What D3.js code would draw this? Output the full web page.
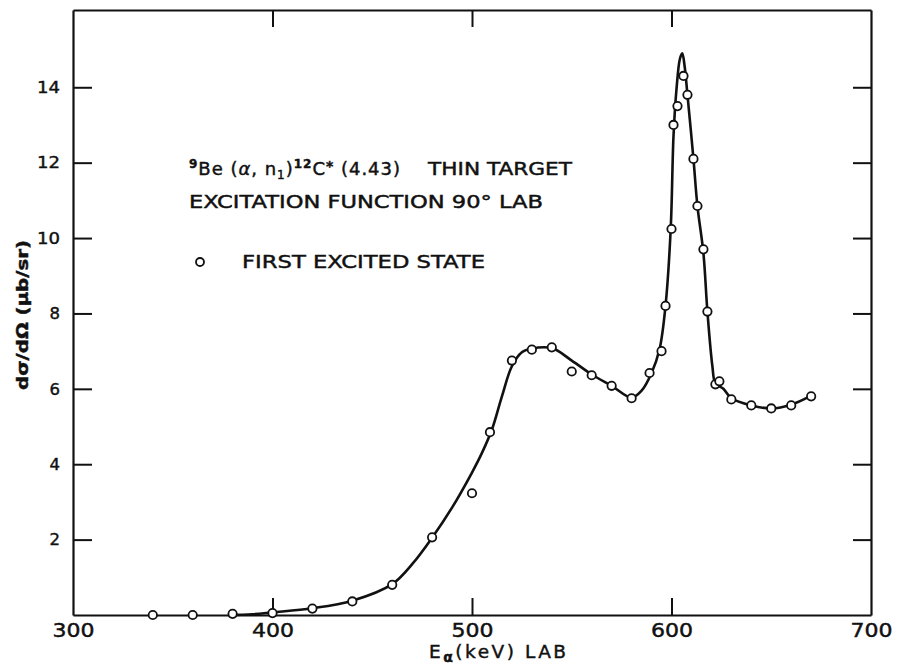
<!DOCTYPE html>
<html>
<head>
<meta charset="utf-8">
<script src="https://cdn.jsdelivr.net/npm/d3@7"></script>
<style>
  html, body { margin: 0; padding: 0; background: #fff; }
  svg { display: block; }
  text { font-family: "DejaVu Sans", sans-serif; fill: #111; stroke: #111; stroke-width: 0.45px; }
</style>
</head>
<body>
<svg id="chart" width="900" height="671"></svg>
<script>
// Measured points (E_alpha in keV, dσ/dΩ in μb/sr)
const energy = [340,360,380,400,420,440,460,480,500,509,520,530,540,550,560,570,580,589,595,597,600,601,603,606,608,611,613,616,618,622,624,630,640,650,660,670];
const sigma  = [0.0,0.0,0.03,0.05,0.17,0.36,0.8,2.06,3.23,4.85,6.75,7.04,7.1,6.46,6.36,6.08,5.75,6.42,7.0,8.2,10.24,13.0,13.5,14.3,13.8,12.1,10.85,9.7,8.05,6.12,6.2,5.72,5.56,5.48,5.56,5.8];

// Hand-drawn fitted curve
const curveE = [378,390,400,420,440,460,470,480,490,500,505,510,515,520,525,530,540,550,560,570,580,585,590,594,597,599.6,601,602.5,604.2,605.4,606.6,608,611,613,616,618,620.5,622,626,630,640,650,660,670];
const curveV = [0.0,0.02,0.07,0.18,0.38,0.82,1.35,2.05,2.85,3.78,4.3,4.92,5.8,6.6,6.97,7.07,7.08,6.75,6.38,6.08,5.77,5.95,6.42,7.05,8.2,10.24,12.7,13.95,14.75,14.9,14.55,13.8,12.1,10.85,9.6,8.05,6.6,6.15,6.0,5.75,5.56,5.48,5.58,5.82];

const xTickValues = [300,400,500,600,700];
const xInnerTicks = [400,500,600];
const yTickValues = [2,4,6,8,10,12,14];

const svg = d3.select("#chart");
const L = 73, R = 871, T = 10, B = 615;
const x = d3.scaleLinear().domain([300,700]).range([L,R]);
const y = d3.scaleLinear().domain([0,16.05]).range([B,T]);

const axisStyle = g => {
  g.selectAll("path.domain").attr("stroke","#111").attr("stroke-width",2.2);
  g.selectAll(".tick line").attr("stroke","#111").attr("stroke-width",2);
};

// bottom axis
svg.append("g").attr("transform",`translate(0,${B})`)
  .call(d3.axisBottom(x).tickValues(xTickValues).tickSize(-17).tickSizeOuter(0).tickPadding(9).tickFormat(d3.format("d")))
  .call(axisStyle)
  .call(g => {
    g.selectAll(".tick").filter(d => !xInnerTicks.includes(d)).select("line").remove();
    g.selectAll(".tick text").attr("font-size",19).attr("font-family","DejaVu Sans")
      .attr("textLength",42).attr("lengthAdjust","spacingAndGlyphs").attr("fill","#111");
  });
// top axis
svg.append("g").attr("transform",`translate(0,${T})`)
  .call(d3.axisTop(x).tickValues(xInnerTicks).tickSize(-17).tickSizeOuter(0).tickFormat(""))
  .call(axisStyle);
// left axis
svg.append("g").attr("transform",`translate(${L},0)`)
  .call(d3.axisLeft(y).tickValues(yTickValues).tickSize(-19).tickSizeOuter(0).tickPadding(13).tickFormat(d3.format("d")))
  .call(axisStyle)
  .call(g => g.selectAll(".tick text").attr("font-size",16.5).attr("font-family","DejaVu Sans").attr("fill","#111")
     .each(function(d){ if (d >= 10) d3.select(this).attr("textLength",23).attr("lengthAdjust","spacingAndGlyphs"); }));
// right axis
svg.append("g").attr("transform",`translate(${R},0)`)
  .call(d3.axisRight(y).tickValues(yTickValues).tickSize(-18).tickSizeOuter(0).tickFormat(""))
  .call(axisStyle);

// curve
const line = d3.line().x((d,i)=>x(curveE[i])).y((d,i)=>y(curveV[i])).curve(d3.curveCatmullRom.alpha(0.5));
svg.append("path").datum(curveE).attr("d",line)
  .attr("fill","none").attr("stroke","#111").attr("stroke-width",2.6).attr("stroke-linejoin","round");

// points
svg.append("g").selectAll("circle").data(energy).join("circle")
  .attr("cx",(d)=>x(d)).attr("cy",(d,i)=>y(sigma[i])).attr("r",4.2)
  .attr("fill","#fff").attr("stroke","#111").attr("stroke-width",1.8);

// annotation
const t1 = svg.append("text").attr("x",189).attr("y",175).attr("font-size",18)
  .attr("textLength",211).attr("lengthAdjust","spacing");
t1.append("tspan").text("9").attr("font-size",12).attr("font-weight","bold").attr("dy",-7);
t1.append("tspan").text("Be (").attr("dy",7);
t1.append("tspan").text("α").attr("font-style","italic");
t1.append("tspan").text(", n");
t1.append("tspan").text("1").attr("font-size",12).attr("dy",4);
t1.append("tspan").text(")").attr("dy",-4);
t1.append("tspan").text("12").attr("font-size",12).attr("font-weight","bold").attr("dy",-7);
t1.append("tspan").text("C").attr("dy",7);
t1.append("tspan").text("*").attr("font-size",14).attr("font-weight","bold").attr("dy",-4);
t1.append("tspan").text(" (4.43)").attr("dy",4);
svg.append("text").attr("x",428).attr("y",175).attr("font-size",17.5)
  .attr("textLength",144).attr("lengthAdjust","spacingAndGlyphs").text("THIN  TARGET");
svg.append("text").attr("x",189).attr("y",208).attr("font-size",17.5)
  .attr("textLength",354).attr("lengthAdjust","spacingAndGlyphs").text("EXCITATION  FUNCTION  90°  LAB");
svg.append("circle").attr("cx",200).attr("cy",262).attr("r",4).attr("fill","#fff").attr("stroke","#111").attr("stroke-width",1.8);
svg.append("text").attr("x",242).attr("y",268).attr("font-size",17.5)
  .attr("textLength",243).attr("lengthAdjust","spacingAndGlyphs").text("FIRST  EXCITED  STATE");

// axis titles
const xt = svg.append("text").attr("x",429).attr("y",658).attr("font-size",18.5);
xt.append("tspan").text("E");
xt.append("tspan").text("α").attr("font-size",14).attr("font-weight","bold").attr("dy",4);
xt.append("tspan").text("(keV)  LAB").attr("dy",-4);
xt.attr("textLength",137).attr("lengthAdjust","spacing");

svg.append("text").attr("transform","translate(28,315) rotate(-90)").attr("text-anchor","middle")
  .attr("font-size",15).attr("font-weight","bold").attr("textLength",150).attr("lengthAdjust","spacingAndGlyphs")
  .text("dσ/dΩ (μb/sr)");
</script>
</body>
</html>
